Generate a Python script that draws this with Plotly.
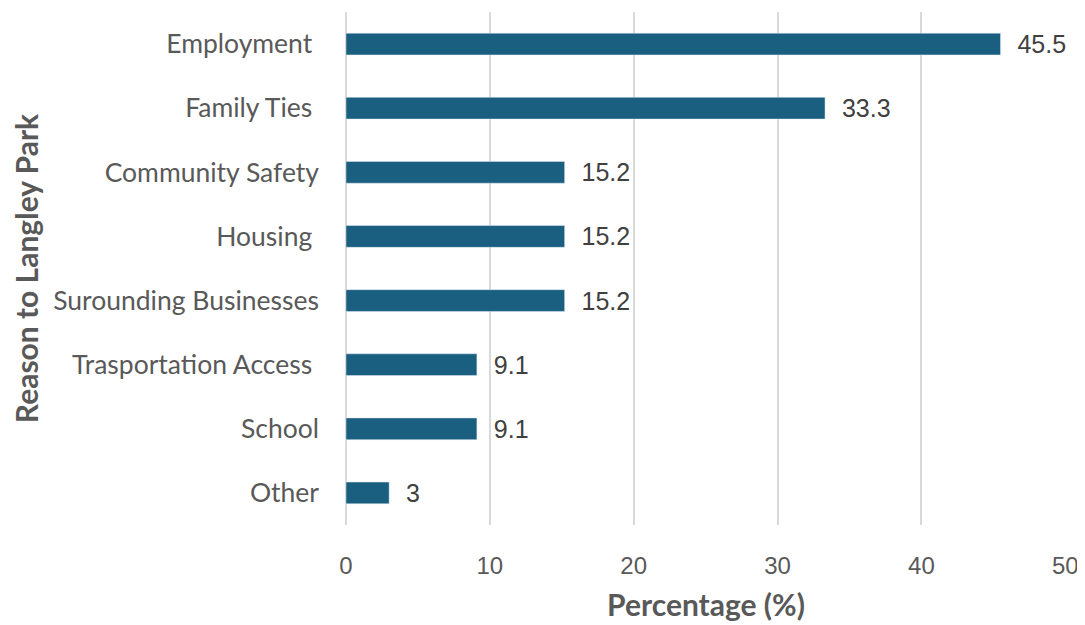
import plotly.graph_objects as go

categories = ["Employment ", "Family Ties ", "Community Safety", "Housing ",
              "Surounding Businesses", "Trasportation Access ", "School", "Other"]
values = [45.5, 33.3, 15.2, 15.2, 15.2, 9.1, 9.1, 3]
value_labels = ["45.5", "33.3", "15.2", "15.2", "15.2", "9.1", "9.1", "3"]
x_ticks = [0, 10, 20, 30, 40, 50]

fig = go.Figure(go.Bar(
    y=categories, x=values, orientation="h",
    marker=dict(color="#1a5e80"),
    text=["  " + t for t in value_labels], textposition="outside",
    textfont=dict(family="Liberation Sans", size=25, color="#404040"),
    constraintext="none",
    cliponaxis=False,
))

fig.update_layout(
    width=1085, height=625,
    margin=dict(l=338, r=27, t=4, b=108),
    plot_bgcolor="white", paper_bgcolor="white",
    bargap=0.66, showlegend=False,
    xaxis=dict(range=[0, 50.05], tickvals=x_ticks, showgrid=True,
               gridcolor="#d9d9d9", gridwidth=2, zeroline=True,
               zerolinecolor="#d9d9d9", zerolinewidth=2,
               tickfont=dict(family="Liberation Sans", size=24, color="#595959"),
               ticklabelstandoff=24,
               title=dict(text="Percentage (%)", standoff=16,
                          font=dict(family="Lato", size=30, color="#595959", weight="bold"))),
    yaxis=dict(categoryorder="array", categoryarray=categories[::-1],
               tickfont=dict(family="Lato", size=26.5, color="#595959"),
               ticklabelstandoff=26, showgrid=False,
               title=dict(text="Reason to Langley Park", standoff=8,
                          font=dict(family="Lato", size=30, color="#595959", weight="bold"))),
)

fig.write_html("out.html")
